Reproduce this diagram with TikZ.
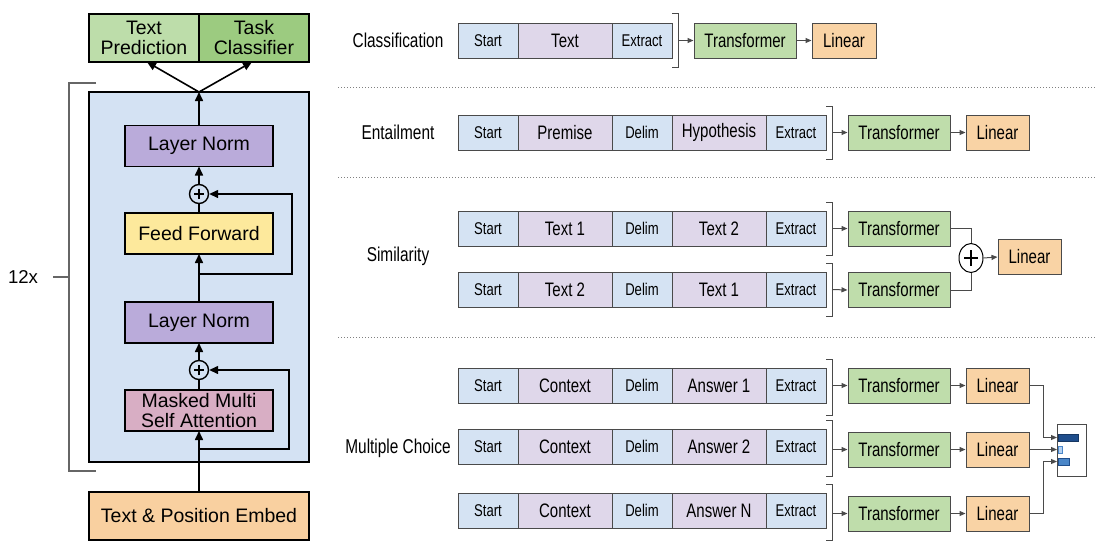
\documentclass[tikz,border=0pt]{standalone}
\usepackage{fontspec}
\setmainfont{Liberation Sans}
\newfontfamily\narrowsans[FakeStretch=0.77]{Liberation Sans}
\usetikzlibrary{arrows.meta,shapes.geometric}

% block colours
\definecolor{blockblue}{HTML}{D4E2F3}
\definecolor{predgreen}{HTML}{BDDDAA}
\definecolor{clsgreen}{HTML}{9CCB80}
\definecolor{normpurple}{HTML}{BAABDA}
\definecolor{ffyellow}{HTML}{FDE99C}
\definecolor{attnpink}{HTML}{D8AEC4}
\definecolor{embedorange}{HTML}{F9D0A0}
% token and head colours
\definecolor{tokblue}{HTML}{D5E3F3}
\definecolor{toklilac}{HTML}{DFD7EA}
\definecolor{trfgreen}{HTML}{BFDDAB}
\definecolor{linorange}{HTML}{F9D3A5}
\definecolor{edgegray}{HTML}{4A4A4A}
\definecolor{bracegray}{HTML}{666666}
\definecolor{bardark}{HTML}{1F4E8C}
\definecolor{barlight}{HTML}{B3D0F0}
\definecolor{barmid}{HTML}{4A86C8}

\tikzset{
  leftbox/.style={draw=black, line width=1.4pt, inner sep=0pt, outer sep=0pt,
    align=center, font=\fontsize{19.5}{20}\selectfont},
  normbox/.style={leftbox, fill=normpurple, minimum width=148pt, minimum height=41pt},
  plusnode/.style={circle, draw=black, line width=1.4pt, fill=blockblue,
    minimum size=19pt, inner sep=0pt},
  flow/.style={line width=1.6pt, -{Triangle[length=9pt,width=8pt]}},
  flowline/.style={line width=1.6pt},
  resline/.style={line width=1.4pt},
  tok/.style={draw=edgegray, line width=1pt, inner sep=0pt, outer sep=0pt,
    minimum height=35pt, anchor=west, font=\narrowsans\fontsize{19.5}{19.5}\selectfont},
  toksmall/.style={tok, fill=tokblue, minimum width=60pt,
    font=\narrowsans\fontsize{17}{17}\selectfont},
  tokbig/.style={tok, fill=toklilac, minimum width=94pt},
  trf/.style={draw=edgegray, line width=1pt, fill=trfgreen, inner sep=0pt,
    minimum width=102pt, minimum height=35pt, font=\narrowsans\fontsize{19.5}{19.5}\selectfont},
  lin/.style={draw=edgegray, line width=1pt, fill=linorange, inner sep=0pt,
    minimum width=63pt, minimum height=35pt, font=\narrowsans\fontsize{19.5}{19.5}\selectfont},
  brk/.style={draw=edgegray, line width=1pt},
  thinarrow/.style={draw=edgegray, line width=1pt, -{Triangle[length=6pt,width=5pt]}},
  thinline/.style={draw=edgegray, line width=1pt},
  sep/.style={draw=gray, line width=0.8pt, dash pattern=on 0.8pt off 2.2pt},
  tasklabel/.style={font=\narrowsans\fontsize{20}{20}\selectfont},
}

\begin{document}
\begin{tikzpicture}[x=1pt,y=-1pt]
\fill[white] (0,0) rectangle (1111,552);
\useasboundingbox (0,0) rectangle (1111,552);

% ---------------- transformer block ----------------
\node[leftbox, fill=blockblue, minimum width=220pt, minimum height=370pt] (block) at (199,277) {};
\node[leftbox, fill=predgreen, minimum width=110pt, minimum height=48pt] (pred) at (144,38) {Text\\Prediction};
\node[leftbox, fill=clsgreen, minimum width=110pt, minimum height=48pt] (cls) at (254,38) {Task\\Classifier};

\node[normbox] (ln1) at (199,146) {Layer Norm};
\node[plusnode] (add1) at (199,194) {};
\node[leftbox, fill=ffyellow, minimum width=148pt, minimum height=41pt] (ff) at (199,233.5) {Feed Forward};
\node[normbox] (ln2) at (199,322.5) {Layer Norm};
\node[plusnode] (add2) at (199,370) {};
\node[leftbox, fill=attnpink, minimum width=148pt, minimum height=41pt] (msa) at (199,410.5) {Masked Multi\\Self Attention};
\node[leftbox, fill=embedorange, minimum width=220pt, minimum height=48pt] (embed) at (199,516) {Text \& Position Embed};

% plus signs
\foreach \p in {add1,add2}{
  \draw[line width=1.4pt] ([xshift=-5pt]\p.center) -- ([xshift=5pt]\p.center);
  \draw[line width=1.4pt] ([yshift=-5pt]\p.center) -- ([yshift=5pt]\p.center);
}

% main data path
\coordinate (top) at (block.north);
\coordinate (res2) at (199,449);
\coordinate (res1) at (199,274);
\draw[flow] (embed.north) -- (msa.south);
\draw[flowline] (msa.north) -- (add2.south);
\draw[flow] (add2.north) -- (ln2.south);
\draw[flow] (ln2.north) -- (ff.south);
\draw[flowline] (ff.north) -- (add1.south);
\draw[flow] (add1.north) -- (ln1.south);
\draw[flow] (ln1.north) -- (top);
\draw[flow] (top) -- ([xshift=3pt]pred.south);
\draw[flow] (top) -- ([xshift=-2pt]cls.south);

% residual connections
\draw[resline, -{Triangle[length=9pt,width=8pt]}] (res2) -- (289,449) |- (add2.east);
\draw[resline, -{Triangle[length=9pt,width=8pt]}] (res1) -- (292,274) |- (add1.east);

% repetition bracket
\draw[draw=bracegray, line width=1.2pt] (96,83) -- (69,83) -- (69,471) -- (96,471);
\draw[draw=bracegray, line width=1.2pt] (53,277) -- (69,277);
\node[font=\fontsize{18.6}{18.6}\selectfont] (rep) at (23,277) {12x};

% ---------------- task separators ----------------
\draw[sep] (338,87) -- (1095,87);
\draw[sep] (338,177) -- (1095,177);
\draw[sep] (338,337) -- (1095,337);

% ---------------- classification ----------------
\node[tasklabel] (lab-c) at (398,40.5) {Classification};
\node[toksmall] (c-s) at (458,40.5) {Start};
\node[tokbig] (c-t) at (c-s.east) {Text};
\node[toksmall] (c-x) at (c-t.east) {Extract};
\draw[brk] ([yshift=10pt]c-x.north east) -- ++(6,0) |- ([yshift=-9pt]c-x.south east);
\coordinate (c-b) at ([xshift=6pt]c-x.east);
\node[trf] (c-tr) at (745,40.5) {Transformer};
\node[lin, minimum width=64pt] (c-l) at (844,40.5) {Linear};
\draw[thinarrow] (c-b) -- (c-tr.west);
\draw[thinarrow] (c-tr.east) -- (c-l.west);

% ---------------- entailment ----------------
\node[tasklabel] (lab-e) at (398,132.5) {Entailment};
\node[toksmall] (e-s) at (458,132.5) {Start};
\node[tokbig] (e-p) at (e-s.east) {Premise};
\node[toksmall] (e-d) at (e-p.east) {Delim};
\node[tokbig] (e-h) at (e-d.east) {Hypothesis};
\node[toksmall] (e-x) at (e-h.east) {Extract};
\draw[brk] ([yshift=9pt]e-x.north east) -- ++(6,0) |- ([yshift=-9pt]e-x.south east);
\coordinate (e-b) at ([xshift=6pt]e-x.east);
\node[trf] (e-tr) at (899,132.5) {Transformer};
\node[lin] (e-l) at (997.5,132.5) {Linear};
\draw[thinarrow] (e-b) -- (e-tr.west);
\draw[thinarrow] (e-tr.east) -- (e-l.west);

% ---------------- similarity ----------------
\node[tasklabel] (lab-s) at (398,256) {Similarity};
\node[toksmall] (s1-s) at (458,228.5) {Start};
\node[tokbig] (s1-a) at (s1-s.east) {Text 1};
\node[toksmall] (s1-d) at (s1-a.east) {Delim};
\node[tokbig] (s1-b) at (s1-d.east) {Text 2};
\node[toksmall] (s1-x) at (s1-b.east) {Extract};
\node[toksmall] (s2-s) at (458,289.5) {Start};
\node[tokbig] (s2-a) at (s2-s.east) {Text 2};
\node[toksmall] (s2-d) at (s2-a.east) {Delim};
\node[tokbig] (s2-b) at (s2-d.east) {Text 1};
\node[toksmall] (s2-x) at (s2-b.east) {Extract};
\draw[brk] ([yshift=9pt]s1-x.north east) -- ++(6,0) |- ([yshift=-9pt]s1-x.south east);
\draw[brk] ([yshift=9pt]s2-x.north east) -- ++(6,0) |- ([yshift=-9pt]s2-x.south east);
\coordinate (s1-k) at ([xshift=6pt]s1-x.east);
\coordinate (s2-k) at ([xshift=6pt]s2-x.east);
\node[trf] (s1-tr) at (899,228.5) {Transformer};
\node[trf] (s2-tr) at (899,290) {Transformer};
\node[ellipse, draw=black, line width=1pt, fill=white, minimum width=24pt, minimum height=29pt, inner sep=0pt] (s-add) at (971,258) {};
\draw[line width=1.3pt] ([xshift=-7pt]s-add.center) -- ([xshift=7pt]s-add.center);
\draw[line width=1.3pt] ([yshift=-8pt]s-add.center) -- ([yshift=8pt]s-add.center);
\node[lin] (s-l) at (1029.5,257) {Linear};
\draw[thinarrow] (s1-k) -- (s1-tr.west);
\draw[thinarrow] (s2-k) -- (s2-tr.west);
\draw[thinline] (s1-tr.east) -| (s-add.north);
\draw[thinline] (s2-tr.east) -| (s-add.south);
\draw[thinarrow] (s-add.east) -- (s-l.west);

% ---------------- multiple choice ----------------
\node[tasklabel] (lab-m) at (398,448) {Multiple Choice};
\node[toksmall] (m1-s) at (458,385.5) {Start};
\node[tokbig] (m1-c) at (m1-s.east) {Context};
\node[toksmall] (m1-d) at (m1-c.east) {Delim};
\node[tokbig] (m1-a) at (m1-d.east) {Answer 1};
\node[toksmall] (m1-x) at (m1-a.east) {Extract};
\node[toksmall] (m2-s) at (458,446.5) {Start};
\node[tokbig] (m2-c) at (m2-s.east) {Context};
\node[toksmall] (m2-d) at (m2-c.east) {Delim};
\node[tokbig] (m2-a) at (m2-d.east) {Answer 2};
\node[toksmall] (m2-x) at (m2-a.east) {Extract};
\node[toksmall] (m3-s) at (458,510.5) {Start};
\node[tokbig] (m3-c) at (m3-s.east) {Context};
\node[toksmall] (m3-d) at (m3-c.east) {Delim};
\node[tokbig] (m3-a) at (m3-d.east) {Answer N};
\node[toksmall] (m3-x) at (m3-a.east) {Extract};
\foreach \r in {m1,m2,m3}{
  \draw[brk] ([yshift=9pt]\r-x.north east) -- ++(6,0) |- ([yshift=-12pt]\r-x.south east);
  \coordinate (\r-k) at ([xshift=6pt]\r-x.east);
}
\node[trf] (m1-tr) at (899,385.5) {Transformer};
\node[trf] (m2-tr) at (899,449.5) {Transformer};
\node[trf] (m3-tr) at (899,513.5) {Transformer};
\node[lin] (m1-l) at (997.5,385.5) {Linear};
\node[lin] (m2-l) at (997.5,449.5) {Linear};
\node[lin] (m3-l) at (997.5,513.5) {Linear};
\foreach \r in {m1,m2,m3}{
  \draw[thinarrow] (\r-k |- \r-tr.west) -- (\r-tr.west);
  \draw[thinarrow] (\r-tr.east) -- (\r-l.west);
}

% answer scores
\node[draw=edgegray, line width=0.9pt, fill=white, minimum width=29pt, minimum height=52pt, inner sep=0pt] (scores) at (1071.5,450) {};
\filldraw[fill=bardark, draw=bardark!70!black, line width=0.6pt] (1058,434) rectangle (1078,441);
\filldraw[fill=barlight, draw=barmid, line width=0.6pt] (1058,446) rectangle (1062,453);
\filldraw[fill=barmid, draw=bardark, line width=0.6pt] (1058,458) rectangle (1069,465);
\coordinate (sc1) at (1057,437.5);
\coordinate (sc2) at (1057,449.5);
\coordinate (sc3) at (1057,461.5);
\draw[thinarrow] (m1-l.east) -- ++(14,0) |- (sc1);
\draw[thinarrow] (m2-l.east) -- (sc2);
\draw[thinarrow] (m3-l.east) -- ++(14,0) |- (sc3);
\end{tikzpicture}
\end{document}
